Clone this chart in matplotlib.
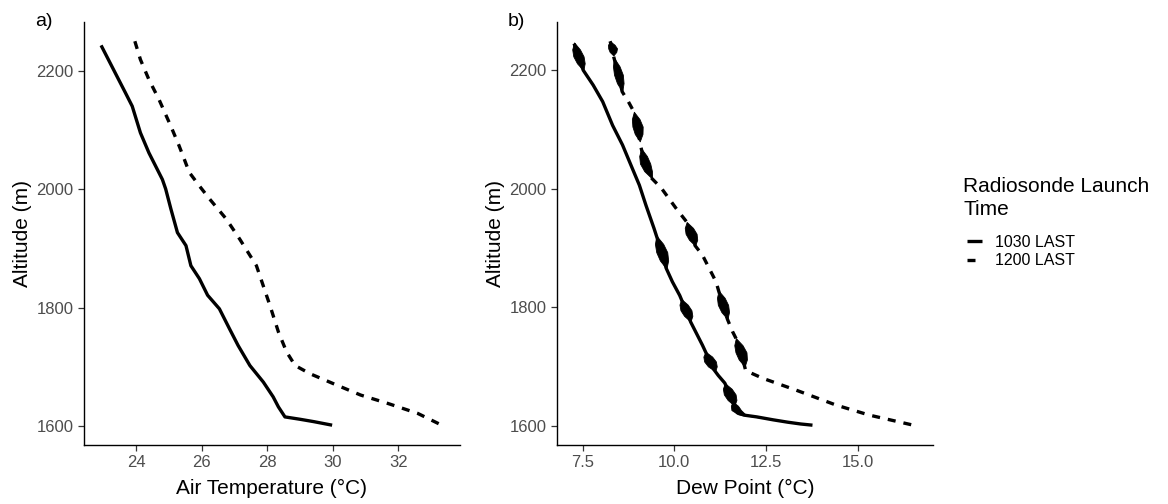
import matplotlib
matplotlib.use("Agg")
import matplotlib.pyplot as plt
from matplotlib.lines import Line2D
from matplotlib.ticker import FixedLocator, FormatStrFormatter
import numpy as np

plt.rcParams['font.family'] = ['Liberation Sans', 'DejaVu Sans']

# ---------------- data ----------------
series_labels = ["1030 LAST", "1200 LAST"]
legend_title = "Radiosonde Launch\nTime"

# Panel a: air temperature profiles
alt_a_1030 = [2244, 2191, 2164, 2141, 2096, 2062, 2017, 2001, 1967, 1927, 1905, 1871, 1849,
              1821, 1798, 1764, 1736, 1702, 1674, 1649, 1632, 1615, 1611, 1607, 1601]
temp_a_1030 = [22.93, 23.42, 23.67, 23.88, 24.13, 24.39, 24.80, 24.90, 25.06, 25.26, 25.52, 25.67, 25.93,
               26.18, 26.54, 26.85, 27.11, 27.47, 27.88, 28.18, 28.34, 28.54, 29.00, 29.42, 29.98]

alt_a_1200 = [2251, 2220, 2186, 2152, 2107, 2074, 2051, 2029, 2006, 1984, 1950, 1916, 1871,
              1804, 1759, 1725, 1702, 1688, 1671, 1652, 1638, 1621, 1600]
temp_a_1200 = [23.96, 24.13, 24.39, 24.70, 25.06, 25.31, 25.47, 25.62, 25.93, 26.24, 26.75, 27.16, 27.67,
               28.08, 28.34, 28.59, 28.85, 29.31, 30.03, 30.85, 31.67, 32.59, 33.36]

# Panel b: dew point profiles
alt_b_1030 = [2245, 2225, 2200, 2175, 2147, 2107, 2074, 2034, 2006, 1972, 1933, 1893, 1866,
              1843, 1820, 1795, 1775, 1736, 1708, 1695, 1685, 1672, 1652, 1634, 1622, 1618,
              1615, 1610, 1606, 1603, 1601]
dew_b_1030 = [7.27, 7.38, 7.52, 7.79, 8.05, 8.32, 8.59, 8.86, 9.05, 9.23, 9.45, 9.66, 9.78,
              9.95, 10.15, 10.32, 10.45, 10.77, 10.98, 11.08, 11.20, 11.38, 11.52, 11.64, 11.72, 11.90,
              12.25, 12.70, 13.10, 13.45, 13.77]

alt_b_1200 = [2249, 2237, 2225, 2195, 2164, 2147, 2130, 2105, 2076, 2045, 2020, 2001, 1967,
              1944, 1924, 1904, 1888, 1843, 1828, 1804, 1780, 1759, 1748, 1724, 1700, 1693,
              1680, 1660, 1635, 1618, 1600]
dew_b_1200 = [8.25, 8.32, 8.34, 8.47, 8.58, 8.75, 8.90, 9.00, 9.07, 9.19, 9.35, 9.65, 10.05,
              10.34, 10.46, 10.57, 10.77, 11.14, 11.21, 11.33, 11.45, 11.59, 11.68, 11.82, 11.92, 11.95,
              12.42, 13.33, 14.41, 15.32, 16.59]

# oscillation "blobs" in the dew point traces (altitude span, half-width in °C)
blob_1030_top = [2247, 1921, 1814, 1725, 1672, 1641]
blob_1030_bot = [2200, 1865, 1776, 1692, 1634, 1612]
blob_1030_hw = [0.14, 0.15, 0.15, 0.16, 0.16, 0.13]

blob_1200_top = [2249, 2221, 2130, 2068, 1944, 1828, 1748]
blob_1200_bot = [2225, 2164, 2080, 2017, 1904, 1780, 1700]
blob_1200_hw = [0.12, 0.12, 0.14, 0.14, 0.15, 0.14, 0.15]

xticks_a = [24, 26, 28, 30, 32]
xticks_b = [7.5, 10.0, 12.5, 15.0]
yticks = [1600, 1800, 2000, 2200]

# ---------------- styling ----------------
W, H = 1168, 504
fig = plt.figure(figsize=(W / 100, H / 100), dpi=100)

LW = 2.4
DASH = (2.4, 2.4)
TICK_COLOR = '#4D4D4D'
LENS = np.array([0.0, 0.75, 1.0, 0.75, 0.0])


def expand(vals):
    lo, hi = min(vals), max(vals)
    pad = (hi - lo) * 0.05
    return lo - pad, hi + pad


def style_axes(ax, xticks, fmt, xlabel):
    for s in ['top', 'right']:
        ax.spines[s].set_visible(False)
    for s in ['left', 'bottom']:
        ax.spines[s].set_linewidth(1.0)
        ax.spines[s].set_color('black')
    ax.xaxis.set_major_locator(FixedLocator(xticks))
    ax.xaxis.set_major_formatter(FormatStrFormatter(fmt))
    ax.yaxis.set_major_locator(FixedLocator(yticks))
    ax.tick_params(axis='both', length=4, width=0.9, color='#333333',
                   labelsize=12, labelcolor=TICK_COLOR, pad=3.5)
    ax.set_xlabel(xlabel, fontsize=15, labelpad=6)
    ax.set_ylabel('Altitude (m)', fontsize=15, labelpad=3)


def draw_blobs(ax, alts, vals, tops, bots, hws):
    a_sorted = np.array(alts[::-1], dtype=float)
    v_sorted = np.array(vals[::-1], dtype=float)
    for top, bot, hw in zip(tops, bots, hws):
        a = np.linspace(top, bot, len(LENS))
        c = np.interp(a, a_sorted, v_sorted)
        ax.fill_betweenx(a, c - hw * LENS, c + hw * LENS, color='black', lw=0.6,
                         edgecolor='black')


ax_a = fig.add_axes([84 / W, (H - 445) / H, 376 / W, 423 / H])
ax_b = fig.add_axes([557 / W, (H - 445) / H, 376 / W, 423 / H])

ax_a.plot(temp_a_1030, alt_a_1030, color='black', lw=LW, solid_capstyle='butt')
ax_a.plot(temp_a_1200, alt_a_1200, color='black', lw=LW, dashes=DASH, dash_capstyle='butt')
ax_a.set_xlim(*expand(temp_a_1030 + temp_a_1200))
ax_a.set_ylim(*expand(alt_a_1030 + alt_a_1200))
style_axes(ax_a, xticks_a, '%d', 'Air Temperature (°C)')

ax_b.plot(dew_b_1030, alt_b_1030, color='black', lw=LW, solid_capstyle='butt')
ax_b.plot(dew_b_1200, alt_b_1200, color='black', lw=LW, dashes=DASH, dash_capstyle='butt')
draw_blobs(ax_b, alt_b_1030, dew_b_1030, blob_1030_top, blob_1030_bot, blob_1030_hw)
draw_blobs(ax_b, alt_b_1200, dew_b_1200, blob_1200_top, blob_1200_bot, blob_1200_hw)
ax_b.set_xlim(*expand(dew_b_1030 + dew_b_1200))
ax_b.set_ylim(*expand(alt_b_1030 + alt_b_1200))
style_axes(ax_b, xticks_b, '%.1f', 'Dew Point (°C)')

fig.text(35 / W, 1 - 13 / H, 'a)', fontsize=14, va='top', ha='left')
fig.text(508 / W, 1 - 13 / H, 'b)', fontsize=14, va='top', ha='left')

# legend title and entries
fig.text(963 / W, 1 - 177 / H, legend_title, fontsize=15, va='top', ha='left',
         linespacing=1.25)
handles = [Line2D([], [], color='black', lw=LW, solid_capstyle='butt'),
           Line2D([], [], color='black', lw=LW, dashes=DASH, dash_capstyle='butt')]
fig.legend(handles, series_labels, loc='upper left', bbox_to_anchor=(967 / W, 1 - 235 / H),
           frameon=False, fontsize=11.5, handlelength=0.95, handletextpad=0.8,
           labelspacing=0.2, borderpad=0, borderaxespad=0)

fig.savefig('out.png', dpi=100)
